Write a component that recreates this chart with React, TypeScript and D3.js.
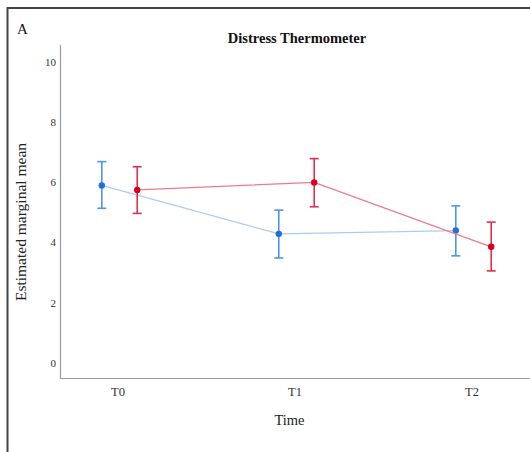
import React, { useRef, useEffect } from "react";
import * as d3 from "d3";

// data
const times = ["T0", "T1", "T2"];
const blueMean = [5.9, 4.29, 4.4];
const blueLow = [5.14, 3.49, 3.56];
const blueHigh = [6.69, 5.08, 5.22];
const redMean = [5.75, 6.0, 3.86];
const redLow = [4.97, 5.19, 3.06];
const redHigh = [6.52, 6.79, 4.68];
const yTicks = [0, 2, 4, 6, 8, 10];

const App = () => {
  const ref = useRef<SVGSVGElement>(null);

  useEffect(() => {
    const width = 530;
    const height = 452;
    const svg = d3.select(ref.current);
    svg.selectAll("*").remove();

    const font = "'Liberation Serif', 'Times New Roman', serif";

    svg.append("rect").attr("width", width).attr("height", height).attr("fill", "#fff");

    // outer frame (cut off on right and bottom)
    svg
      .append("rect")
      .attr("x", 7.5)
      .attr("y", 8)
      .attr("width", 540)
      .attr("height", 460)
      .attr("fill", "none")
      .attr("stroke", "#444")
      .attr("stroke-width", 2);

    const x = d3.scalePoint().domain(times).range([119.5, 473.5]);
    const y = d3.scaleLinear().domain([0, 10]).range([363, 62]);
    const off = 17.7;

    // axes
    svg
      .append("line")
      .attr("x1", 60.5)
      .attr("x2", 60.5)
      .attr("y1", 45)
      .attr("y2", 378.5)
      .attr("stroke", "#9a9a9a")
      .attr("stroke-width", 1.2);
    svg
      .append("line")
      .attr("x1", 60)
      .attr("x2", 540)
      .attr("y1", 378.5)
      .attr("y2", 378.5)
      .attr("stroke", "#9a9a9a")
      .attr("stroke-width", 1.2);

    svg
      .append("g")
      .selectAll("text")
      .data(yTicks)
      .join("text")
      .attr("x", 56)
      .attr("y", (d) => y(d))
      .attr("dy", "0.35em")
      .attr("text-anchor", "end")
      .attr("font-family", font)
      .attr("font-size", 11)
      .attr("fill", "#333")
      .text((d) => d);

    svg
      .append("g")
      .selectAll("text")
      .data(times)
      .join("text")
      .attr("x", (d) => (x(d) as number) - 1.5)
      .attr("y", 396)
      .attr("text-anchor", "middle")
      .attr("font-family", font)
      .attr("font-size", 12.5)
      .attr("fill", "#333")
      .text((d) => d);

    svg
      .append("text")
      .attr("x", 289.5)
      .attr("y", 425)
      .attr("text-anchor", "middle")
      .attr("font-family", font)
      .attr("font-size", 14.5)
      .attr("fill", "#222")
      .text("Time");

    svg
      .append("text")
      .attr("transform", "translate(26,222) rotate(-90)")
      .attr("text-anchor", "middle")
      .attr("font-family", font)
      .attr("font-size", 15.5)
      .attr("fill", "#222")
      .text("Estimated marginal mean");

    svg
      .append("text")
      .attr("x", 297)
      .attr("y", 43)
      .attr("text-anchor", "middle")
      .attr("font-family", font)
      .attr("font-size", 14.5)
      .attr("font-weight", "bold")
      .attr("fill", "#111")
      .text("Distress Thermometer");

    svg
      .append("text")
      .attr("x", 17)
      .attr("y", 34)
      .attr("font-family", font)
      .attr("font-size", 15)
      .attr("fill", "#111")
      .text("A");

    const series = [
      { mean: blueMean, low: blueLow, high: blueHigh, dx: -off, line: "#a9cdf2", bar: "#4a97ec", dot: "#1f6fd8" },
      { mean: redMean, low: redLow, high: redHigh, dx: off, line: "#f27a86", bar: "#e2314e", dot: "#d4001e" },
    ];

    series.forEach((s) => {
      const g = svg.append("g");
      const px = (i: number) => (x(times[i]) as number) + s.dx;
      const line = d3
        .line<number>()
        .x((_, i) => px(i))
        .y((d) => y(d));
      g.append("path")
        .attr("d", line(s.mean))
        .attr("fill", "none")
        .attr("stroke", s.line)
        .attr("stroke-width", 1.3);

      const bars = g.selectAll("g.eb").data(s.mean).join("g");
      bars
        .append("line")
        .attr("x1", (_, i) => px(i))
        .attr("x2", (_, i) => px(i))
        .attr("y1", (_, i) => y(s.low[i]))
        .attr("y2", (_, i) => y(s.high[i]))
        .attr("stroke", s.bar)
        .attr("stroke-width", 1.6);
      [s.low, s.high].forEach((arr) => {
        bars
          .append("line")
          .attr("x1", (_, i) => px(i) - 4.5)
          .attr("x2", (_, i) => px(i) + 4.5)
          .attr("y1", (_, i) => y(arr[i]))
          .attr("y2", (_, i) => y(arr[i]))
          .attr("stroke", s.bar)
          .attr("stroke-width", 1.6);
      });
      bars
        .append("circle")
        .attr("cx", (_, i) => px(i))
        .attr("cy", (d) => y(d))
        .attr("r", 3.2)
        .attr("fill", s.dot);
    });
  }, []);

  return (
    <svg
      ref={ref}
      width={530}
      height={452}
      style={{ position: "absolute", left: 0, top: 0 }}
    />
  );
};

export default App;
